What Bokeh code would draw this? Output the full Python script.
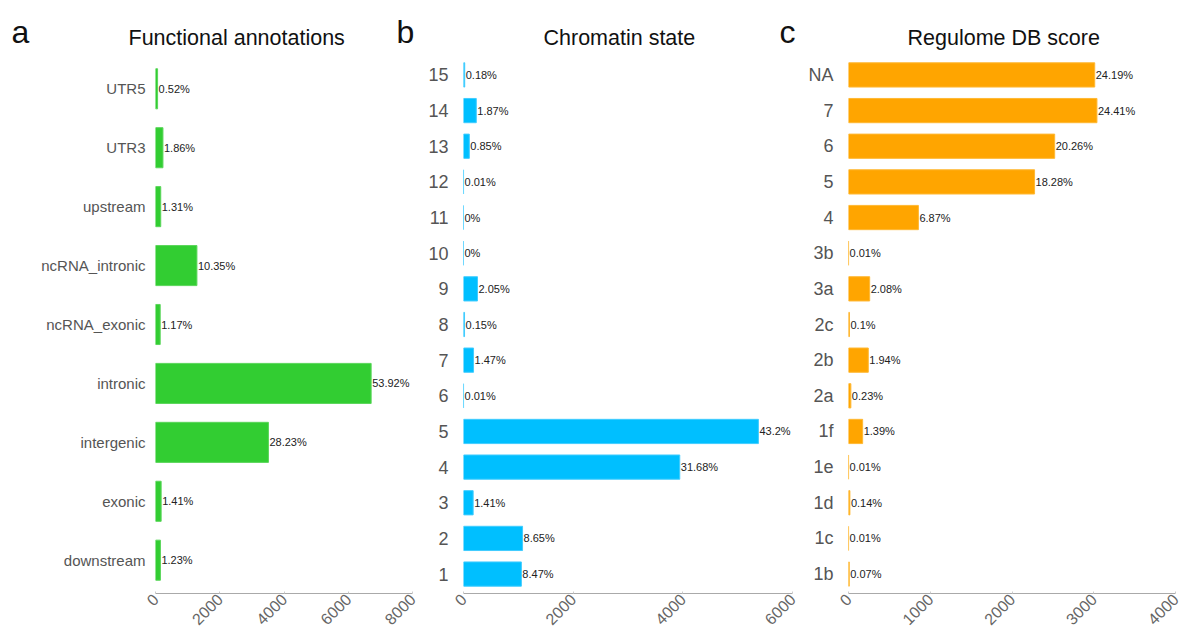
import math
from bokeh.plotting import figure
from bokeh.layouts import row, column
from bokeh.models import ColumnDataSource, FactorRange, Range1d, FixedTicker
from bokeh.core.properties import value
from bokeh.embed import file_html
from bokeh.resources import INLINE

FONT = "Liberation Sans"

# ---- data ----
func_cats = ["UTR5", "UTR3", "upstream", "ncRNA_intronic", "ncRNA_exonic",
             "intronic", "intergenic", "exonic", "downstream"]
func_counts = [65, 232, 163, 1289, 146, 6713, 3515, 176, 153]
func_pcts = ["0.52%", "1.86%", "1.31%", "10.35%", "1.17%", "53.92%", "28.23%", "1.41%", "1.23%"]

chrom_cats = ["15", "14", "13", "12", "11", "10", "9", "8", "7", "6", "5", "4", "3", "2", "1"]
chrom_counts = [22, 233, 106, 1, 0, 0, 255, 19, 183, 1, 5378, 3944, 176, 1077, 1055]
chrom_pcts = ["0.18%", "1.87%", "0.85%", "0.01%", "0%", "0%", "2.05%", "0.15%", "1.47%",
              "0.01%", "43.2%", "31.68%", "1.41%", "8.65%", "8.47%"]

reg_cats = ["NA", "7", "6", "5", "4", "3b", "3a", "2c", "2b", "2a", "1f", "1e", "1d", "1c", "1b"]
reg_counts = [3012, 3039, 2522, 2276, 855, 1, 259, 12, 242, 29, 173, 1, 17, 1, 9]
reg_pcts = ["24.19%", "24.41%", "20.26%", "18.28%", "6.87%", "0.01%", "2.08%", "0.1%", "1.94%",
            "0.23%", "1.39%", "0.01%", "0.14%", "0.01%", "0.07%"]

titles = ["Functional annotations", "Chromatin state", "Regulome DB score"]
letters = ["a", "b", "c"]

panels = [
    dict(cats=func_cats, counts=func_counts, pcts=func_pcts, color="#32CD32", line="#5ad65a",
         xmax=8000, ticks=[0, 2000, 4000, 6000, 8000],
         width=425, bl=155, br=13, ylab_size="15px", standoff=4, pad=0.065,
         title_x=128, letters=[(letters[0], 11), (letters[1], 396)]),
    dict(cats=chrom_cats, counts=chrom_counts, pcts=chrom_pcts, color="#00BFFF", line="#40ccff",
         xmax=6000, ticks=[0, 2000, 4000, 6000],
         width=380, bl=34, br=13, ylab_size="18px", standoff=9, pad=0.045,
         title_x=118, letters=[(letters[2], 354)]),
    dict(cats=reg_cats, counts=reg_counts, pcts=reg_pcts, color="#FFA500", line="#ffb833",
         xmax=4000, ticks=[0, 1000, 2000, 3000, 4000],
         width=380, bl=43, br=10, ylab_size="18px", standoff=9, pad=0.045,
         title_x=102, letters=[]),
]

H = 633
HEAD = 55
BOTTOM = 40
cols = []
for i, d in enumerate(panels):
    # heading strip: panel letter(s) and title as real text
    s = figure(width=d["width"], height=HEAD, x_range=Range1d(0, d["width"]),
               y_range=Range1d(HEAD, 0), x_axis_type=None, y_axis_type=None,
               output_backend="svg", toolbar_location=None, min_border=0,
               frame_align=False)
    s.outline_line_color = None
    s.xgrid.visible = False
    s.ygrid.visible = False
    s.text(x=[d["title_x"]], y=[37.5], text=[titles[i]], text_font=value(FONT),
           text_font_size="21.5px", text_color="#111111", text_baseline="middle",
           text_align="left")
    if d["letters"]:
        s.text(x=[lx for _, lx in d["letters"]], y=[31] * len(d["letters"]),
               text=[lt for lt, _ in d["letters"]], text_font=value(FONT),
               text_font_size="32px", text_color="#111111", text_baseline="middle",
               text_align="left")

    yr = FactorRange(factors=list(reversed(d["cats"])), range_padding=d["pad"],
                     range_padding_units="absolute")
    p = figure(width=d["width"], height=H - HEAD, y_range=yr, x_range=Range1d(0, d["xmax"]),
               output_backend="svg", toolbar_location=None,
               min_border_left=d["bl"], min_border_right=d["br"],
               min_border_top=0, min_border_bottom=BOTTOM, frame_align=False)
    src = ColumnDataSource(dict(cat=d["cats"], cnt=d["counts"], pct=d["pcts"]))
    p.hbar(y="cat", right="cnt", left=0, height=0.68, source=src,
           fill_color=d["color"], line_color=d["line"], line_width=1)
    p.text(x="cnt", y="cat", text="pct", source=src, x_offset=1,
           text_font=value(FONT), text_font_size="11px", text_color="#222222",
           text_baseline="middle", text_align="left")

    p.xgrid.visible = False
    p.ygrid.visible = False
    p.outline_line_color = None

    p.yaxis.axis_line_color = None
    p.yaxis.major_tick_line_color = None
    p.yaxis.minor_tick_line_color = None
    p.yaxis.major_label_text_font = FONT
    p.yaxis.major_label_text_font_size = d["ylab_size"]
    p.yaxis.major_label_text_color = "#555555"
    p.yaxis.major_label_standoff = d["standoff"]

    p.xaxis.ticker = FixedTicker(ticks=d["ticks"])
    p.xaxis.axis_line_color = "#aaaaaa"
    p.xaxis.major_tick_line_color = "#cccccc"
    p.xaxis.major_tick_in = 2
    p.xaxis.major_tick_out = 0
    p.xaxis.minor_tick_line_color = None
    p.xaxis.major_label_orientation = math.pi / 4
    p.xaxis.major_label_text_font = FONT
    p.xaxis.major_label_text_font_size = "16px"
    p.xaxis.major_label_text_color = "#666666"
    p.xaxis.major_label_standoff = 3

    cols.append(column(s, p, spacing=0))

layout = row(*cols, spacing=0)
open("out.html", "w").write(file_html(layout, INLINE))
